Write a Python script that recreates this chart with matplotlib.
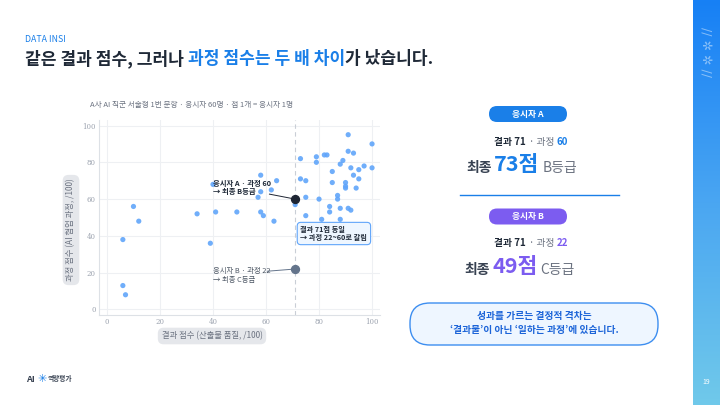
import matplotlib.pyplot as plt
import numpy as np
from matplotlib.patches import FancyBboxPatch
from matplotlib.colors import LinearSegmentedColormap

plt.rcParams["font.family"] = ["Noto Sans CJK KR", "DejaVu Sans"]

# scatter data: result score (x) vs process score (y), one dot per applicant
result_scores = [6, 6, 7, 10, 12, 34, 39, 40, 41, 49,
                 57, 58, 58, 58, 59, 62, 63, 64,
                 71, 73, 73, 75, 75, 75, 79, 79, 80, 81, 82, 83, 84, 84,
                 85, 85, 87, 87, 88, 88, 88, 89, 90, 90, 90, 91, 91, 91,
                 92, 92, 93, 93, 94, 95, 95, 97, 100, 100]
process_scores = [38, 13, 8, 56, 48, 52, 36, 68, 53, 53,
                  61, 73, 64, 53, 51, 65, 48, 70,
                  57, 82, 71, 70, 61, 51, 83, 80, 60, 49, 84, 84, 56, 53,
                  75, 69, 62, 60, 79, 55, 49, 81, 69, 67, 66, 95, 86, 55,
                  77, 54, 85, 73, 66, 76, 71, 78, 90, 77]

applicant_a = (71, 60)
applicant_b = (71, 22)
same_result = 71

blue = "#1a7fe8"
purple = "#7c5cf0"
dark = "#1f2937"
gray = "#6b7280"

fig = plt.figure(figsize=(7.2, 4.05), dpi=100)
fig.patch.set_facecolor("white")

# full-figure layer in pixel coordinates for the slide decoration
bg = fig.add_axes([0, 0, 1, 1])
bg.axis("off")

# right gradient bar
grad = np.linspace(0, 1, 256).reshape(-1, 1)
cmap = LinearSegmentedColormap.from_list("bar", ["#1780f5", "#4aa6f2", "#70c9ea"])
bg.imshow(grad, cmap=cmap, extent=[693, 720, 405, 0], aspect="auto", zorder=0)
bg.text(706, 52, "// ✲ ✲ //", rotation=-90, ha="center", va="center",
        fontsize=9, color="white", alpha=0.45, family="DejaVu Sans")
bg.text(706, 382, "19", ha="center", va="center", fontsize=5, color="white")
bg.set_xlim(0, 720)
bg.set_ylim(405, 0)

# header
bg.text(25, 40, "DATA INSI", fontsize=6.3, color=blue, va="center")
t = bg.text(25, 64, "같은 결과 점수, 그러나 ", fontsize=12.3, weight="bold", color=dark, va="baseline")
t = bg.annotate("과정 점수는 두 배 차이", xy=(1, 0), xycoords=t, va="bottom",
                fontsize=12.3, weight="bold", color=blue)
bg.annotate("가 났습니다.", xy=(1, 0), xycoords=t, va="bottom",
            fontsize=12.3, weight="bold", color=dark)

bg.text(90, 105, "A사 AI 직군 서술형 1번 문항 · 응시자 60명 · 점 1개 = 응시자 1명",
        fontsize=5.5, color=gray, va="center")

# logo
bg.text(26, 379, "AI", fontsize=6.5, weight="bold", color="#374151", va="center")
bg.text(42, 379, "✳", fontsize=8, weight="bold", color=blue, va="center", ha="center",
        family="DejaVu Sans")
bg.text(48, 379, "역량평가", fontsize=4.8, weight="bold", color="#374151", va="center")


def run(x, y, parts):
    txt, size, color, weight = parts[0]
    t = bg.text(x, y, txt, fontsize=size, color=color, weight=weight, va="baseline")
    for txt, size, color, weight in parts[1:]:
        t = bg.annotate(txt, xy=(1, 0), xycoords=t, xytext=(2, 0), textcoords="offset points",
                        va="bottom", fontsize=size, color=color, weight=weight)


def pill(cx, cy, label, color):
    bg.add_patch(FancyBboxPatch((cx - 39, cy - 8), 78, 16,
                                boxstyle="round,pad=0,rounding_size=8",
                                fc=color, ec="none", zorder=2))
    bg.text(cx, cy, label, ha="center", va="center", fontsize=6.3,
            weight="bold", color="white", zorder=3)


# right panel - applicant A
pill(528, 114, "응시자 A", blue)
run(494, 145, [("결과 71", 7, dark, "bold"), ("· 과정", 7, gray, "normal"), ("60", 7, blue, "bold")])
run(466, 172, [("최종", 10, "#374151", "bold"), ("73점", 15.5, blue, "bold"), ("B등급", 10, gray, "normal")])
bg.plot([460, 619], [195, 195], color=blue, lw=1)

# right panel - applicant B
pill(528, 216.5, "응시자 B", purple)
run(494, 246, [("결과 71", 7, dark, "bold"), ("· 과정", 7, gray, "normal"), ("22", 7, purple, "bold")])
run(464, 274, [("최종", 10, "#374151", "bold"), ("49점", 15.5, purple, "bold"), ("C등급", 10, gray, "normal")])

# callout
bg.add_patch(FancyBboxPatch((410, 303), 248, 42, boxstyle="round,pad=0,rounding_size=20",
                            fc="#eef6ff", ec="#3d8ef0", lw=1))
bg.text(534, 316, "성과를 가르는 결정적 격차는", ha="center", va="center",
        fontsize=7, weight="bold", color="#1c64d8")
bg.text(534, 330, "‘결과물’이 아닌 ‘일하는 과정’에 있습니다.", ha="center", va="center",
        fontsize=7, weight="bold", color="#1c64d8")

# axis label boxes
bg.text(71, 230, "과정 점수 (AI 협업 과정, /100)", rotation=90, ha="center", va="center",
        fontsize=6, color=gray,
        bbox=dict(boxstyle="round,pad=0.45,rounding_size=0.7", fc="#e5e7eb", ec="none"))
bg.text(212, 336, "결과 점수 (산출물 품질, /100)", ha="center", va="center",
        fontsize=6, color=gray,
        bbox=dict(boxstyle="round,pad=0.45,rounding_size=0.7", fc="#e5e7eb", ec="none"))

# main scatter
ax = fig.add_axes([99 / 720, 1 - 315 / 405, 281 / 720, 195 / 405])
ax.set_facecolor("none")
ax.set_xlim(-3, 103)
ax.set_ylim(-3, 103)
ax.set_xticks(range(0, 101, 20))
ax.set_yticks(range(0, 101, 20))
ax.grid(True, color="#eef0f3", lw=0.8)
ax.set_axisbelow(True)
for s in ["top", "right"]:
    ax.spines[s].set_visible(False)
for s in ["left", "bottom"]:
    ax.spines[s].set_color("#dde1e6")
    ax.spines[s].set_linewidth(0.8)
ax.tick_params(length=0, labelsize=5, labelcolor="#9ca3af", pad=2.5)
for lab in ax.get_xticklabels() + ax.get_yticklabels():
    lab.set_family("DejaVu Serif")

ax.axvline(same_result, color="#c9ced6", lw=0.8, ls=(0, (4, 3)), zorder=1)
ax.scatter(result_scores, process_scores, s=14, color="#60a5fa", alpha=0.9,
           edgecolors="none", zorder=2)
ax.scatter(*applicant_a, s=32, color="#1e2533", zorder=4)
ax.scatter(*applicant_b, s=32, color="#64748b", zorder=4)

ax.plot([61.3, applicant_a[0]], [62.7, applicant_a[1]], color="#1e2533", lw=0.7, zorder=3)
ax.text(40, 66.3, "응시자 A · 과정 60\n→ 최종 B등급", fontsize=5.3, weight="bold",
        color=dark, va="center", ha="left", linespacing=1.2, zorder=5)
ax.plot([60.5, applicant_b[0]], [20.8, applicant_b[1]], color="#64748b", lw=0.7, zorder=3)
ax.text(40, 18.5, "응시자 B · 과정 22\n→ 최종 C등급", fontsize=5.3,
        color="#4b5563", va="center", ha="left", linespacing=1.2, zorder=5)
ax.text(73, 41.3, "결과 71점 동일\n→ 과정 22~60로 갈림", fontsize=5.2, weight="bold",
        color=dark, va="center", ha="left", linespacing=1.3, zorder=5,
        bbox=dict(boxstyle="round,pad=0.45,rounding_size=0.5", fc="#eef6ff",
                  ec="#60a5fa", lw=0.8))

fig.savefig("out.png", dpi=100)
